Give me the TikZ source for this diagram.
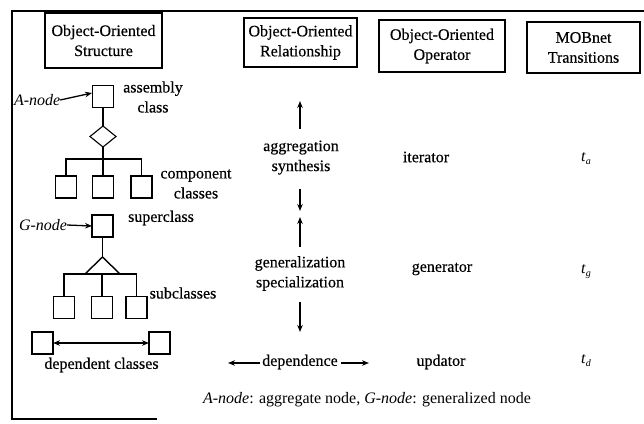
\documentclass[tikz,border=0pt]{standalone}
\usepackage{fontspec}
\setmainfont{Liberation Serif}
\newfontfamily\heavy[FakeBold=0.4]{Liberation Serif}
\usetikzlibrary{arrows.meta,shapes.geometric}
\newcommand{\trans}[1]{\textit{t}\raisebox{-3pt}{\fontsize{10}{10}\selectfont\textit{#1}}}
\begin{document}
\begin{tikzpicture}[x=1pt,y=-1pt,
  every node/.style={inner sep=0pt,outer sep=0pt},
  lbl/.style={font=\heavy\fontsize{16}{20}\selectfont,align=center},
  ital/.style={font=\itshape\fontsize{16}{20}\selectfont},
  head/.style={draw,line width=1.1pt,font=\heavy\fontsize{16}{20}\selectfont,align=center},
  cls/.style={draw,line width=1.1pt,minimum width=21pt,minimum height=22pt},
  link/.style={line width=1.4pt},
  arr/.style={line width=1.3pt,-{Stealth[length=7pt,width=5.5pt]}},
  darr/.style={line width=1.3pt,{Stealth[length=7pt,width=5.5pt]}-{Stealth[length=7pt,width=5.5pt]}},
  tr/.style={font=\fontsize{16}{20}\selectfont}]
\useasboundingbox (0,0) rectangle (644,423);

% outer frame (open on the right)
\draw[line width=1.3pt] (644,11) -- (12,11) -- (12,419) -- (157,419);

% column headings
\node[head,minimum width=117pt,minimum height=55pt] (h1) at (103.5,40.5) {Object-Oriented\\Structure};
\node[head,minimum width=113pt,minimum height=49pt] (h2) at (300.5,42.5) {Object-Oriented\\Relationship};
\node[head,minimum width=126pt,minimum height=52pt] (h3) at (442,46) {Object-Oriented\\Operator};
\node[head,minimum width=113pt,minimum height=51pt] (h4) at (583.5,47.5) {MOBnet\\Transitions};

% aggregation structure
\node[cls] (asm) at (103,96.5) {};
\node[draw,line width=1.1pt,diamond,minimum width=26pt,minimum height=21pt] (dia) at (103,136.5) {};
\node[cls] (c1) at (66,187) {};
\node[cls] (c2) at (103,187) {};
\node[cls] (c3) at (141.5,187) {};
\coordinate (bar1) at (103,159);
\draw[link] (asm.south) -- (dia.north);
\draw[link] (dia.south) -- (bar1);
\draw[link] (c1.north) |- (bar1) -| (c3.north);
\draw[link] (bar1) -- (c2.north);
\node[ital,anchor=west] (anode) at (14,100) {A-node};
\coordinate (asmin) at (92,93);
\draw[arr] (anode.east) -- (asmin);
\node[lbl] (asmlbl) at (153,97) {assembly\\class};
\node[lbl] (complbl) at (196,184) {component\\classes};

% generalization structure
\node[cls] (sup) at (102.5,226) {};
\coordinate (apex) at (102.5,257);
\coordinate (tl) at (85,274);
\coordinate (trr) at (120,274);
\node[cls] (s1) at (64,307.5) {};
\node[cls] (s2) at (102,307.5) {};
\node[cls] (s3) at (136.5,307.5) {};
\draw[link] (sup.south) -- (apex);
\draw[link,line join=miter] (tl) -- (apex) -- (trr);
\draw[link] (s1.north) |- (tl) -- (trr) -| (s3.north);
\draw[link] (s2.north) -- (s2.north |- tl);
\node[ital,anchor=east] (gnode) at (67,225) {G-node};
\draw[arr] (gnode.east) -- (sup.west);
\node[lbl] (suplbl) at (161,218) {superclass};
\node[lbl] (sublbl) at (183,293) {subclasses};

% dependence structure
\node[cls] (d1) at (42.5,343) {};
\node[cls] (d2) at (159.5,343) {};
\draw[darr] (d1.east) -- (d2.west);
\node[lbl] (deplbl) at (101.5,365) {dependent classes};

% relationship column
\node[lbl] (agg) at (301,157.5) {aggregation\\synthesis};
\coordinate (a1) at (300,101);
\coordinate (a2) at (300,211);
\draw[arr] (300,129) -- (a1);
\draw[arr] (300,189) -- (a2);
\node[lbl] (gen) at (300,273.5) {generalization\\specialization};
\coordinate (g1) at (300,217);
\coordinate (g2) at (300,332);
\draw[arr] (300,247) -- (g1);
\draw[arr] (300,302) -- (g2);
\node[lbl] (dep) at (300,362) {dependence};
\coordinate (dl) at (228,363);
\coordinate (dr) at (369,363);
\draw[arr] (260,363) -- (dl);
\draw[arr] (341,363) -- (dr);

% operator column
\node[lbl] (it) at (426,157) {iterator};
\node[lbl] (ge) at (442,269) {generator};
\node[lbl] (up) at (441,362) {updator};

% transition column
\node[tr] (ta) at (586,159) {\trans{a}};
\node[tr] (tg) at (586,272) {\trans{g}};
\node[tr] (td) at (586,361) {\trans{d}};

% legend
\node[font=\fontsize{16}{20}\selectfont] (leg) at (367,400) {\textit{A-node}: aggregate node, \textit{G-node}: generalized node};
\end{tikzpicture}
\end{document}
